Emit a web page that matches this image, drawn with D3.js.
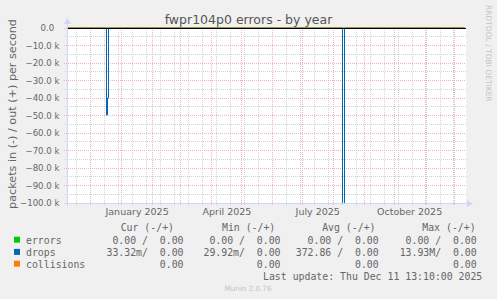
<!DOCTYPE html>
<html>
<head>
<meta charset="utf-8">
<script src="https://cdn.jsdelivr.net/npm/d3@7"></script>
<style>
  body { margin: 0; background: #f0f0f0; }
  text { font-family: "DejaVu Sans", sans-serif; fill: #666; }
  .mono { font-family: "DejaVu Sans Mono", monospace; white-space: pre; }
</style>
</head>
<body>
<div id="chart"></div>
<script>

// series and legend data
var seriesNames = ["errors", "drops", "collisions"];
var seriesColors = ["#00cc00", "#0066b3", "#ff8000"];

// drops (in, shown negative); errors and collisions stay at zero
var dropDates = ["2024-11-06", "2024-12-16", "2024-12-17", "2024-12-18", "2024-12-19",
                 "2025-08-09", "2025-08-10", "2025-08-11", "2025-08-12", "2025-12-11"];
var dropValues = [0, 0, -49700, -40000, 0, 0, -13930000, -180000, 0, 0];
var zeroDates = ["2024-11-06", "2025-12-11"];
var zeroValues = [0, 0];

// legend columns: [in, out], null = not shown
var curValues = [[0, 0], [0.03332, 0], [null, 0]];
var minValues = [[0, 0], [0.02992, 0], [null, 0]];
var avgValues = [[0, 0], [372.86, 0], [null, 0]];
var maxValues = [[0, 0], [13930000, 0], [null, 0]];
var columnHeads = ["Cur (-/+)", "Min (-/+)", "Avg (-/+)", "Max (-/+)"];

var xTickDates = ["2025-01-16", "2025-04-16", "2025-07-16", "2025-10-16"];
var xTickLabels = ["January 2025", "April 2025", "July 2025", "October 2025"];
var lastUpdate = "Last update: Thu Dec 11 13:10:00 2025";

function init(){

	var w = 497;
	var h = 299;
	var left = 67, right = 466, top = 28, bottom = 203;

	var svg = d3.select("#chart")
				.append("svg")
				.attr("width", w)
				.attr("height", h);

	svg.append("rect").attr("width", w).attr("height", h).attr("fill", "#f0f0f0");
	svg.append("rect")
		.attr("x", left).attr("y", top)
		.attr("width", right - left).attr("height", bottom - top)
		.attr("fill", "#fff");

	var xEnd = new Date(Date.UTC(2025, 11, 11, 13, 10));
	var xStart = d3.utcDay.offset(xEnd, -400);
	var x = d3.scaleUtc().domain([xStart, xEnd]).range([66.3, 465.5]);
	var y = d3.scaleLinear().domain([-100000, 0]).range([bottom, top]);

	var px = function(v){ return Math.floor(v) + 0.5; };

	//minor grid
	var minorX = d3.utcDay.range(new Date(Date.UTC(2024, 10, 3)), xEnd, 14)
					.filter(function(d){ return d > xStart; });
	var grid = svg.append("g");
	grid.selectAll("line.vminor")
		.data(minorX).enter().append("line")
		.attr("x1", function(d){ return px(x(d)); })
		.attr("x2", function(d){ return px(x(d)); })
		.attr("y1", top).attr("y2", bottom + 2);
	grid.selectAll("line.hminor")
		.data(y.ticks(20).filter(function(v){ return v % 10000 !== 0; }))
		.enter().append("line")
		.attr("x1", left - 2).attr("x2", right)
		.attr("y1", function(d){ return px(y(d)); })
		.attr("y2", function(d){ return px(y(d)); });
	grid.selectAll("line")
		.attr("stroke", "#d2d2d2")
		.attr("stroke-dasharray", "1,1");

	//major grid
	var mgrid = svg.append("g");
	mgrid.selectAll("line.vmajor")
		.data(d3.utcMonth.range(xStart, xEnd)).enter().append("line")
		.attr("x1", function(d){ return px(x(d)); })
		.attr("x2", function(d){ return px(x(d)); })
		.attr("y1", top).attr("y2", bottom + 3);
	mgrid.selectAll("line.hmajor")
		.data(y.ticks(10)).enter().append("line")
		.attr("x1", left - 3).attr("x2", right)
		.attr("y1", function(d){ return px(y(d)); })
		.attr("y2", function(d){ return px(y(d)); });
	mgrid.selectAll("line")
		.attr("stroke", "#efb4b4")
		.attr("stroke-dasharray", "1,1");

	//data lines
	var parse = d3.utcParse("%Y-%m-%d");
	var line = d3.line()
				.x(function(d){ return px(x(d[0])); })
				.y(function(d){ return y(d[1]); })
				.curve(d3.curveStepAfter);
	var plot = svg.append("g");
	plot.append("clipPath").attr("id", "clip")
		.append("rect").attr("x", left).attr("y", top - 1)
		.attr("width", right - left).attr("height", bottom - top + 1);
	var zeros = d3.zip(zeroDates.map(parse), zeroValues);
	var drops = d3.zip(dropDates.map(parse), dropValues);
	[zeros, drops, zeros].forEach(function(s, i){
		plot.append("path")
			.attr("clip-path", "url(#clip)")
			.attr("d", line(s))
			.attr("fill", "none")
			.attr("stroke", seriesColors[i])
			.attr("stroke-width", 1);
	});
	//zero rule
	plot.append("line")
		.attr("x1", left).attr("x2", right)
		.attr("y1", px(y(0))).attr("y2", px(y(0)))
		.attr("stroke", "#000");

	//axes lines and arrows
	var axisColor = "#cfd6f8";
	svg.append("line").attr("x1", left + 0.5).attr("x2", left + 0.5)
		.attr("y1", bottom + 3).attr("y2", top - 6).attr("stroke", axisColor);
	svg.append("line").attr("x1", left - 3).attr("x2", right + 4)
		.attr("y1", bottom + 0.5).attr("y2", bottom + 0.5).attr("stroke", axisColor);
	svg.append("path").attr("d", "M64,24 L71,24 L67.5,18 Z").attr("fill", axisColor);
	svg.append("path").attr("d", "M467,200 L467,207 L473,203.5 Z").attr("fill", axisColor);

	//y labels
	var yAxis = d3.axisLeft(y)
				.tickValues(y.ticks(10))
				.tickSize(0)
				.tickPadding(7.5)
				.tickFormat(function(v){ return v === 0 ? "0.0" : d3.format(".1f")(v / 1000) + " k"; });
	var ya = svg.append("g").attr("transform", "translate(" + left + ",0)").call(yAxis);
	ya.select(".domain").remove();
	ya.selectAll("text")
		.attr("font-size", 8.6).attr("font-family", "DejaVu Sans").attr("fill", "#666")
		.attr("dx", function(d){ return d === 0 ? -5.3 : 0; });

	//x labels
	var xAxis = d3.axisBottom(x)
				.tickValues(xTickDates.map(parse))
				.tickSize(0)
				.tickPadding(5)
				.tickFormat(function(d, i){ return xTickLabels[i]; });
	var xa = svg.append("g").attr("transform", "translate(0," + bottom + ")").call(xAxis);
	xa.select(".domain").remove();
	xa.selectAll("text")
		.attr("font-size", 9.5).attr("font-family", "DejaVu Sans").attr("fill", "#666");

	//title and side texts
	svg.append("text").attr("x", 248.5).attr("y", 24)
		.attr("text-anchor", "middle").attr("font-size", 12.5)
		.style("fill", "#555")
		.text("fwpr104p0 errors - by year");
	svg.append("text")
		.attr("transform", "translate(15.5,114) rotate(-90)")
		.attr("text-anchor", "middle").attr("font-size", 11.2)
		.text("packets in (-) / out (+) per second");
	svg.append("text")
		.attr("transform", "translate(485.5,5) rotate(90)")
		.attr("font-size", 7.5).style("fill", "#c4c4c4")
		.text("RRDTOOL / TOBI OETIKER");
	svg.append("text").attr("x", 248).attr("y", 291)
		.attr("text-anchor", "middle").attr("font-size", 7.2)
		.style("fill", "#c4c4c4")
		.text("Munin 2.0.76");

	//legend
	var fmt = function(v){
		if (v === 0) return "  0.00 ";
		var a = Math.abs(v), s = " ", n = v;
		if (a >= 1e6) { n = v / 1e6; s = "M"; }
		else if (a >= 1e4) { n = v / 1e3; s = "k"; }
		else if (a < 1) { n = v * 1e3; s = "m"; }
		return d3.format("6.2f")(n) + s;
	};
	var cell = function(pair){
		if (pair[0] === null) return fmt(pair[1]).trim();
		return (fmt(pair[0]) + "/" + fmt(pair[1])).trim();
	};
	var headEnds = [174, 275.3, 375.5, 475.6];
	var colEnds = [183.5, 280.5, 378.7, 476.7];
	var rowY = [243.5, 255.7, 267.5];
	var legend = svg.append("g").attr("class", "mono").attr("font-size", 9.85);
	legend.selectAll("text.head")
		.data(columnHeads).enter().append("text")
		.attr("class", "mono")
		.attr("x", function(d, i){ return headEnds[i]; })
		.attr("y", 231).attr("text-anchor", "end")
		.text(function(d){ return d; });
	seriesNames.forEach(function(name, i){
		legend.append("rect")
			.attr("x", 14).attr("y", rowY[i] - 6.8)
			.attr("width", 6).attr("height", 6)
			.attr("fill", seriesColors[i]);
		legend.append("text").attr("class", "mono")
			.attr("x", 26).attr("y", rowY[i]).text(name);
		[curValues, minValues, avgValues, maxValues].forEach(function(col, j){
			legend.append("text").attr("class", "mono")
				.attr("x", colEnds[j]).attr("y", rowY[i])
				.attr("text-anchor", "end")
				.text(cell(col[i]));
		});
	});
	legend.append("text").attr("class", "mono")
		.attr("x", 482.3).attr("y", 279.6).attr("text-anchor", "end")
		.text(lastUpdate);
}

window.onload = init;
</script>
</body>
</html>
